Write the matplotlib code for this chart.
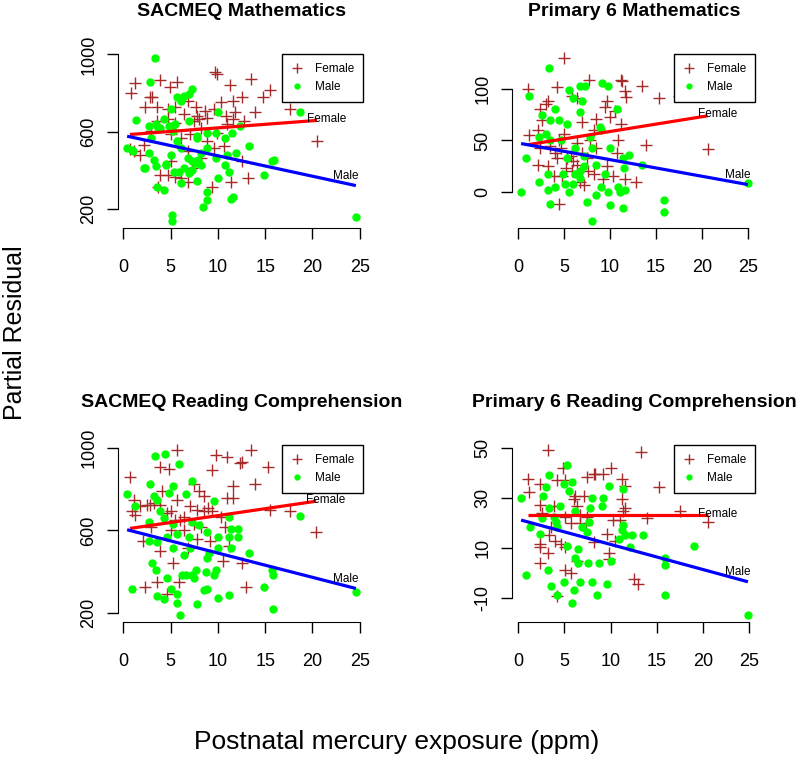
import matplotlib

matplotlib.use("Agg")

import matplotlib.pyplot as plt
import numpy as np
from matplotlib.lines import Line2D

plt.rcParams["font.family"] = ["Liberation Sans", "DejaVu Sans"]

# partial residuals: (mercury ppm, residual)
sacmeq_math_female = [
    (1.2, 853), (0.8, 799), (2.8, 781), (3.0, 778), (3.9, 865), (5.7, 856), (4.9, 830),
    (2.3, 725), (3.6, 725), (4.7, 716), (5.5, 725), (6.4, 690), (6.8, 760), (7.8, 681),
    (8.0, 664), (8.9, 672), (9.6, 716), (9.7, 909), (9.9, 897), (10.3, 751), (11.3, 839),
    (12.5, 778), (13.5, 870), (13.9, 699), (14.8, 778), (15.5, 813), (17.6, 716), (20.5, 550),
    (10.9, 681), (11.6, 664), (11.8, 699), (12.8, 655), (11.0, 637), (1.1, 497), (1.8, 480),
    (3.9, 375), (3.7, 313), (4.7, 375), (5.5, 366), (6.1, 357), (6.8, 340), (6.8, 497),
    (8.2, 462), (9.4, 313), (11.4, 340), (13.2, 357), (9.6, 515), (10.6, 524), (12.5, 445),
    (7.1, 585), (6.1, 567), (5.0, 585), (2.9, 602), (2.2, 532), (8.9, 550), (9.9, 594),
    (8.2, 620), (4.7, 664), (5.5, 646), (3.6, 655), (7.5, 655), (7.3, 410), (5.0, 445),
    (0.7, 508), (7.7, 725), (8.6, 708), (11.6, 760),
]
sacmeq_math_male = [
    (3.3, 979), (2.8, 856), (1.3, 660), (0.4, 515), (0.9, 506), (2.2, 410), (2.7, 489),
    (3.2, 454), (3.4, 419), (3.6, 313), (4.3, 296), (2.7, 629), (3.4, 637), (3.9, 620),
    (2.9, 567), (4.3, 664), (5.7, 778), (6.4, 786), (6.9, 795), (7.3, 821), (6.1, 760),
    (5.0, 716), (5.5, 637), (5.2, 602), (5.7, 550), (6.1, 515), (5.0, 480), (4.5, 427),
    (5.4, 392), (5.9, 392), (6.1, 331), (6.4, 410), (6.9, 384), (7.3, 401), (6.8, 462),
    (7.3, 445), (7.7, 436), (7.9, 454), (8.2, 427), (7.8, 567), (6.9, 655), (7.8, 343),
    (8.4, 208), (8.9, 243), (8.8, 287), (5.1, 165), (5.1, 133), (8.9, 515), (9.8, 462),
    (10.0, 357), (10.7, 427), (11.2, 392), (11.4, 252), (11.6, 261), (11.0, 480), (11.9, 489),
    (10.0, 699), (9.8, 594), (10.7, 564), (11.5, 594), (12.3, 629), (13.3, 524), (14.9, 375),
    (15.7, 445), (15.9, 454), (18.7, 699), (24.6, 156), (8.9, 594), (7.8, 576), (8.2, 489),
    (3.7, 618), (4.8, 628), (1.0, 497), (2.3, 408), (4.5, 429),
]
p6_math_female = [
    (5.0, 130), (1.1, 100), (1.2, 55), (4.2, 102), (7.7, 109), (11.3, 108), (11.2, 109),
    (11.6, 98), (11.7, 92), (13.5, 103), (15.3, 91), (17.5, 93), (20.6, 42), (13.9, 46),
    (12.8, 10), (11.6, 12), (10.3, 15), (9.2, 12), (9.6, 25), (10.7, 38), (10.9, 50),
    (11.2, 66), (10.0, 73), (9.4, 83), (9.6, 89), (8.5, 71), (8.2, 60), (7.8, 50),
    (6.9, 68), (6.4, 91), (5.8, 93), (2.4, 81), (3.2, 89), (3.0, 86), (2.6, 70),
    (2.1, 60), (2.1, 26), (3.2, 25), (3.9, 15), (4.8, 15), (5.2, 23), (4.0, 38),
    (4.6, 43), (5.0, 56), (4.4, 50), (5.7, 35), (6.0, 30), (6.4, 26), (5.8, 20),
    (6.7, 10), (7.1, 7), (7.6, 20), (7.5, 33), (6.9, 38), (4.4, -12), (3.5, 45),
    (4.2, 33), (6.4, 48), (8.2, 17), (5.3, 33), (10.5, 79), (2.4, 43), (8.5, 43),
]
p6_math_male = [
    (3.3, 121), (1.2, 93), (0.8, 33), (0.3, 0), (2.3, 10), (3.2, 2), (3.5, -12),
    (4.0, 5), (2.6, 75), (3.5, 70), (3.0, 56), (4.0, 81), (4.4, 70), (5.3, 66),
    (5.5, 99), (6.0, 91), (6.7, 103), (7.3, 103), (6.7, 78), (6.9, 89), (9.1, 106),
    (9.8, 103), (10.7, 81), (9.0, 60), (7.8, 53), (8.0, 43), (10.0, 43), (11.4, 33),
    (11.5, 23), (12.1, 36), (10.9, 5), (11.1, 0), (11.6, 2), (9.8, 0), (10.0, -13),
    (11.4, -16), (7.5, -10), (8.0, -29), (8.5, -3), (9.4, 17), (9.0, 5), (6.0, 8),
    (5.5, 0), (6.2, 17), (6.7, 20), (6.7, 13), (4.9, 17), (5.1, 8), (5.3, 33),
    (6.2, 43), (7.2, 35), (7.2, 25), (8.5, 26), (8.9, 63), (15.9, -8), (15.9, -20),
    (13.5, 26), (18.9, 95), (25.0, 9), (2.3, 53), (3.5, 50), (4.6, 50), (3.2, 17),
]
sacmeq_read_female = [
    (5.7, 988), (0.7, 858), (0.9, 692), (1.1, 750), (1.8, 717), (2.5, 725), (2.8, 725),
    (3.2, 733), (3.9, 908), (4.8, 900), (4.1, 792), (5.0, 692), (5.7, 750), (6.4, 667),
    (6.0, 650), (7.5, 825), (7.8, 700), (8.5, 767), (9.4, 892), (9.8, 967), (11.0, 958),
    (12.3, 925), (12.6, 933), (13.5, 992), (15.3, 908), (13.9, 825), (11.6, 817), (11.6, 758),
    (15.5, 700), (17.6, 692), (20.4, 592), (10.3, 667), (10.7, 617), (10.5, 450), (12.6, 442),
    (13.0, 325), (2.3, 325), (3.6, 350), (4.6, 292), (5.9, 350), (5.2, 442), (3.9, 500),
    (6.8, 517), (6.4, 600), (7.8, 558), (9.2, 550), (8.2, 617), (9.0, 708), (9.4, 692),
    (3.9, 725), (2.9, 617), (2.1, 550), (5.0, 600), (7.1, 717), (7.5, 633), (8.0, 792),
    (11.2, 525), (11.0, 758), (4.6, 683), (5.5, 650), (1.2, 675), (8.5, 692),
]
sacmeq_read_male = [
    (0.4, 775), (0.9, 317), (1.2, 717), (2.7, 642), (2.8, 825), (3.3, 963), (4.4, 970),
    (5.9, 920), (3.2, 767), (3.6, 750), (3.0, 442), (3.4, 408), (3.6, 542), (2.7, 550),
    (3.6, 283), (4.3, 267), (4.6, 367), (5.0, 317), (5.7, 292), (5.7, 250), (6.0, 188),
    (4.8, 783), (5.3, 817), (6.6, 775), (7.3, 842), (4.3, 658), (5.3, 633), (5.7, 583),
    (5.3, 517), (6.4, 483), (6.9, 567), (6.2, 383), (6.6, 383), (7.3, 383), (7.5, 367),
    (7.7, 408), (7.8, 242), (8.5, 313), (8.9, 317), (8.7, 400), (9.6, 383), (9.8, 408),
    (10.0, 270), (11.2, 287), (8.9, 467), (9.1, 492), (10.0, 517), (10.0, 567), (11.2, 567),
    (11.4, 517), (11.4, 608), (12.1, 567), (12.1, 608), (11.2, 667), (9.6, 742), (7.3, 642),
    (8.0, 625), (8.9, 592), (13.3, 492), (15.7, 408), (15.8, 383), (14.9, 325), (15.8, 217),
    (18.7, 672), (24.6, 300), (3.9, 692), (4.6, 567), (7.1, 517),
]
p6_read_female = [
    (3.2, 49.3), (13.3, 48.4), (1.1, 37.7), (1.2, 32.2), (2.4, 35.6), (2.4, 27.4), (2.3, 11.6),
    (2.4, 10.3), (2.3, 4.1), (3.2, 8.2), (3.3, 15.1), (4.2, 37.0), (4.8, 41.8), (5.1, 37.0),
    (4.0, 13.0), (4.6, 11.6), (5.1, 10.3), (5.1, 1.4), (4.2, -8.9), (5.7, 0.0), (6.0, 29.5),
    (6.2, 30.8), (6.4, 26.7), (6.7, 23.3), (7.1, 30.8), (7.5, 38.4), (8.2, 39.7), (8.3, 39.7),
    (9.2, 39.7), (10.1, 41.8), (11.2, 37.7), (11.6, 34.9), (11.2, 29.5), (11.6, 26.0), (9.6, 15.8),
    (9.8, 8.2), (9.8, 5.5), (10.5, 13.0), (10.3, 21.2), (11.0, 21.2), (8.2, 12.3), (7.5, 22.6),
    (7.3, 19.2), (6.7, 19.9), (5.7, 19.9), (5.1, 22.6), (12.5, -2.1), (13.0, -4.1), (13.9, 21.9),
    (15.3, 34.5), (17.5, 24.7), (20.6, 20.5), (11.4, 24.7), (3.9, 26.7), (3.5, 18.5), (6.4, 4.8),
    (2.6, 24.0),
]
p6_read_male = [
    (0.3, 30.1), (0.8, -0.7), (1.3, 18.5), (2.3, 15.8), (2.6, 21.9), (2.7, 30.8), (3.2, 1.4),
    (3.5, -5.1), (4.2, -8.6), (3.3, 39.0), (3.0, 34.2), (3.3, 26.0), (3.9, 22.6), (4.1, 20.5),
    (4.5, 26.7), (5.0, 35.6), (5.3, 43.2), (5.8, 36.3), (5.5, 32.9), (5.3, 11.0), (4.9, -3.4),
    (5.8, -11.9), (6.0, -6.8), (6.2, 6.2), (6.5, 9.6), (6.5, 4.1), (6.9, 18.5), (7.5, 16.4),
    (7.7, 20.5), (7.8, 26.0), (8.0, 30.1), (7.6, 4.1), (8.0, -3.4), (8.5, -8.5), (8.7, 4.1),
    (9.6, -4.1), (9.8, 34.9), (9.1, 26.7), (9.2, 30.1), (10.0, 4.8), (10.9, 13.7), (11.2, 17.1),
    (11.4, 33.6), (11.4, 19.2), (11.6, 15.1), (12.3, 15.1), (12.1, 10.5), (13.5, 15.1), (15.9, 6.2),
    (15.9, 3.4), (15.9, -8.5), (19.0, 11.0), (24.9, -16.8), (6.7, -3.4), (4.2, 18.5), (6.2, 24.7),
]

titles = [
    "SACMEQ Mathematics",
    "Primary 6 Mathematics",
    "SACMEQ Reading Comprehension",
    "Primary 6 Reading Comprehension",
]
female_sets = [sacmeq_math_female, p6_math_female, sacmeq_read_female, p6_read_female]
male_sets = [sacmeq_math_male, p6_math_male, sacmeq_read_male, p6_read_male]
# fitted lines (intercept, slope)
female_fits = [(582, 3.69), (44.4, 1.44), (605, 6.7), (23.2, 0.0)]
male_fits = [(580, -10.6), (47.5, -1.62), (608, -11.77), (21.5, -1.0)]
yticks = [[200, 600, 1000], [0, 50, 100], [200, 600, 1000], [-10, 10, 30, 50]]
xticks = [0, 5, 10, 15, 20, 25]

BROWN = "#A52A2A"
GREEN = "#00FF00"

# panel rectangles in figure fractions (800x770 px)
rects = [
    (0.1475, 0.7039, 0.3088, 0.2286),
    (0.6400, 0.7039, 0.3063, 0.2286),
    (0.1475, 0.1922, 0.3088, 0.2325),
    (0.6400, 0.1922, 0.3063, 0.2325),
]


def r_range(vals):
    lo, hi = np.min(vals), np.max(vals)
    pad = 0.04 * (hi - lo)
    return lo - pad, hi + pad


fig = plt.figure(figsize=(8, 7.7), dpi=100)

for i in range(4):
    ax = fig.add_axes(rects[i])
    f = np.array(female_sets[i], dtype=float)
    m = np.array(male_sets[i], dtype=float)

    ax.plot(f[:, 0], f[:, 1], "+", color=BROWN, ms=8.5, mew=1.0, ls="none")
    ax.plot(m[:, 0], m[:, 1], "o", color=GREEN, mec=GREEN, ms=5, ls="none")

    a, b = female_fits[i]
    fx = np.array([f[:, 0].min(), f[:, 0].max()])
    ax.plot(fx, a + b * fx, color="red", lw=2.3, solid_capstyle="butt")
    ax.annotate("Female", (fx[1], a + b * fx[1]), xytext=(7, 1), textcoords="offset points",
                ha="center", va="center", fontsize=8.5)

    a, b = male_fits[i]
    mx = np.array([m[:, 0].min(), m[:, 0].max()])
    ax.plot(mx, a + b * mx, color="blue", lw=2.3, solid_capstyle="butt")
    ax.annotate("Male", (mx[1], a + b * mx[1]), xytext=(-7, 7), textcoords="offset points",
                ha="center", va="center", fontsize=8.5)

    ax.set_xlim(*r_range(np.concatenate([f[:, 0], m[:, 0]])))
    ax.set_ylim(*r_range(np.concatenate([f[:, 1], m[:, 1]])))

    for side in ("top", "right"):
        ax.spines[side].set_visible(False)
    ax.spines["left"].set_bounds(yticks[i][0], yticks[i][-1])
    ax.spines["bottom"].set_bounds(xticks[0], xticks[-1])
    ax.set_xticks(xticks)
    ax.set_yticks(yticks[i])
    ax.set_yticklabels([str(v) for v in yticks[i]], rotation=90, va="center")
    ax.tick_params(axis="both", length=8, width=1, labelsize=13)
    ax.tick_params(axis="x", pad=14)
    ax.tick_params(axis="y", pad=7)

    ax.set_title(titles[i], fontsize=14, fontweight="bold", pad=26)

    handles = [
        Line2D([], [], ls="none", marker="+", color=BROWN, ms=7, mew=1.0),
        Line2D([], [], ls="none", marker="o", color=GREEN, mec=GREEN, ms=3.5),
    ]
    leg = ax.legend(handles, ["Female", "Male"], loc="upper right", fontsize=8.5,
                    frameon=True, fancybox=False, framealpha=1, edgecolor="black",
                    borderaxespad=0.2, borderpad=0.75, handlelength=1.0,
                    handletextpad=1.0, labelspacing=0.5)
    leg.get_frame().set_linewidth(1.0)

fig.text(0.019, 1 - 333 / 770, "Partial Residual", rotation=90, ha="center", va="center",
         fontsize=18)
fig.text(0.496, 1 - 742 / 770, "Postnatal mercury exposure (ppm)", ha="center", va="center",
         fontsize=19)

fig.savefig("out.png", dpi=100)
